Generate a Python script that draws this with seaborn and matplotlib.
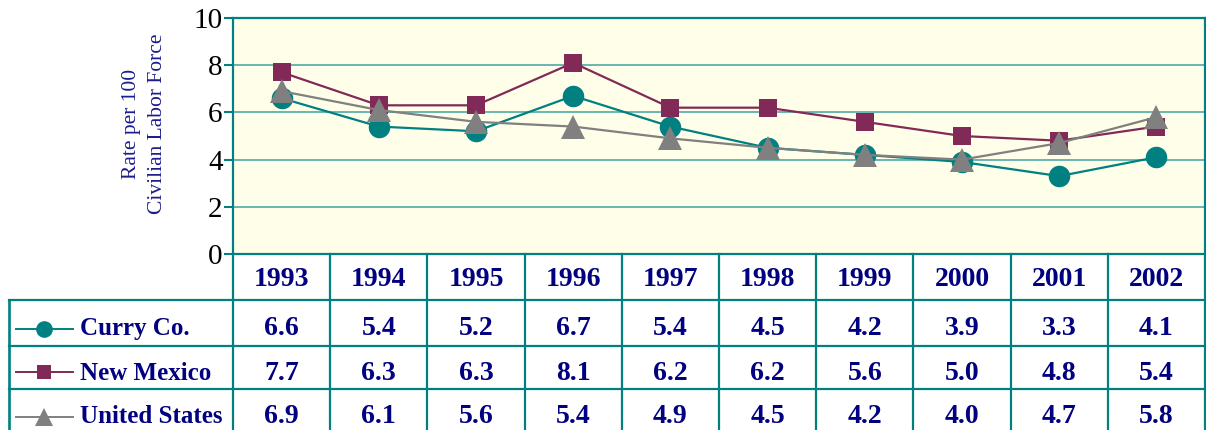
import matplotlib
matplotlib.use("Agg")
import numpy as np
import pandas as pd
import matplotlib.pyplot as plt
import seaborn as sns

# ── Data ─────────────────────────────────────────────────────────────────────
years = [1993, 1994, 1995, 1996, 1997, 1998, 1999, 2000, 2001, 2002]
curry_co = [6.6, 5.4, 5.2, 6.7, 5.4, 4.5, 4.2, 3.9, 3.3, 4.1]
new_mexico = [7.7, 6.3, 6.3, 8.1, 6.2, 6.2, 5.6, 5.0, 4.8, 5.4]
united_states = [6.9, 6.1, 5.6, 5.4, 4.9, 4.5, 4.2, 4.0, 4.7, 5.8]
series_names = ['Curry Co.', 'New Mexico', 'United States']
y_ticks = [0, 2, 4, 6, 8, 10]

# ── Style ────────────────────────────────────────────────────────────────────
TEAL = '#008080'
GRID = '#4FA9A6'
MAROON = '#812A57'
GRAY = '#808080'
NAVY = '#000080'
LABEL_BLUE = '#1C1C90'
BG = '#FFFFE9'
SERIF = ['Liberation Serif', 'DejaVu Serif']

colors = {'Curry Co.': TEAL, 'New Mexico': MAROON, 'United States': GRAY}
markers = {'Curry Co.': 'o', 'New Mexico': 's', 'United States': '^'}
msizes = {'Curry Co.': 15.5, 'New Mexico': 13, 'United States': 17}
leg_sizes = {'Curry Co.': 12, 'New Mexico': 10, 'United States': 12.5}

df = pd.DataFrame({
    'year': years * 3,
    'rate': curry_co + new_mexico + united_states,
    'series': np.repeat(series_names, len(years)),
})

plt.rcParams['font.family'] = SERIF

W, H = 1206, 430
fig = plt.figure(figsize=(W / 100, H / 100), dpi=100)

# pixel layout
PX_LEFT, PX_RIGHT = 233, 1205
PX_TOP, PX_ZERO = 18, 254
COL_W = (PX_RIGHT - PX_LEFT) / len(years)

ax = fig.add_axes([PX_LEFT / W, (H - PX_ZERO) / H,
                   (PX_RIGHT - PX_LEFT) / W, (PX_ZERO - PX_TOP) / H])
ax.set_facecolor(BG)

for name in series_names:
    sub = df[df['series'] == name]
    sns.lineplot(data=sub, x='year', y='rate', color=colors[name],
                 marker=markers[name], markersize=msizes[name],
                 markeredgewidth=0, linewidth=1.6, ax=ax, legend=False)

ax.set_xlim(years[0] - 0.5, years[-1] + 0.5)
ax.set_ylim(0, 10)
ax.set_yticks(y_ticks)
ax.set_yticklabels([str(t) for t in y_ticks], fontsize=21)
ax.set_xticks([])
ax.set_xlabel('')
ax.set_ylabel('')
ax.tick_params(axis='y', length=6.5, width=1.5, color=TEAL, pad=1)
ax.yaxis.grid(True, color=GRID, linewidth=1.2)
ax.set_axisbelow(True)
for sp in ax.spines.values():
    sp.set_color(TEAL)
    sp.set_linewidth(1.6)

ax.text(-0.091, 0.55, 'Rate per 100\nCivilian Labor Force', transform=ax.transAxes,
        rotation=90, ha='center', va='center', multialignment='center',
        fontsize=15.5, color=LABEL_BLUE, linespacing=1.55)

# ── Data table ───────────────────────────────────────────────────────────────
PX_TBL_LEFT = 9
ax_t = fig.add_axes([PX_TBL_LEFT / W, 0, (PX_RIGHT - PX_TBL_LEFT) / W, (H - PX_ZERO) / H])
x_left = years[0] - 0.5 - (PX_LEFT - PX_TBL_LEFT) / COL_W
ax_t.set_xlim(x_left, years[-1] + 0.5)
ax_t.set_ylim(H - PX_ZERO, 0)
ax_t.axis('off')


def px2x(p):
    return x_left + (p - PX_TBL_LEFT) / COL_W


row_lines = [46, 92, 135]
baselines = [32, 81, 126, 169]
marker_y = [75, 118, 163]
lw = 1.6

# column boundaries
bounds = [years[0] - 0.5 + i for i in range(len(years) + 1)]
for b in bounds:
    ax_t.plot([b, b], [0, 200], color=TEAL, linewidth=lw, clip_on=False)
ax_t.plot([x_left, x_left], [row_lines[0], 200], color=TEAL, linewidth=lw * 1.2, clip_on=False)
for r in row_lines:
    ax_t.plot([x_left, years[-1] + 0.5], [r, r], color=TEAL, linewidth=lw, clip_on=False)

txt = dict(fontsize=20, fontweight='bold', color=NAVY, ha='center', va='baseline')
for yr in years:
    ax_t.text(yr, baselines[0], str(yr), **txt)

values = [curry_co, new_mexico, united_states]
for i, (name, vals) in enumerate(zip(series_names, values)):
    for yr, v in zip(years, vals):
        ax_t.text(yr, baselines[i + 1], f'{v:.1f}', **txt)
    ax_t.plot([px2x(16), px2x(44), px2x(73)], [marker_y[i]] * 3, color=colors[name],
              linewidth=1.4, marker=markers[name], markevery=[1],
              markersize=leg_sizes[name], markeredgewidth=0, clip_on=False)
    ax_t.text(px2x(80), baselines[i + 1], name, fontsize=18, fontweight='bold',
              color=NAVY, ha='left', va='baseline')

fig.savefig('out.png', dpi=100, facecolor='white')
